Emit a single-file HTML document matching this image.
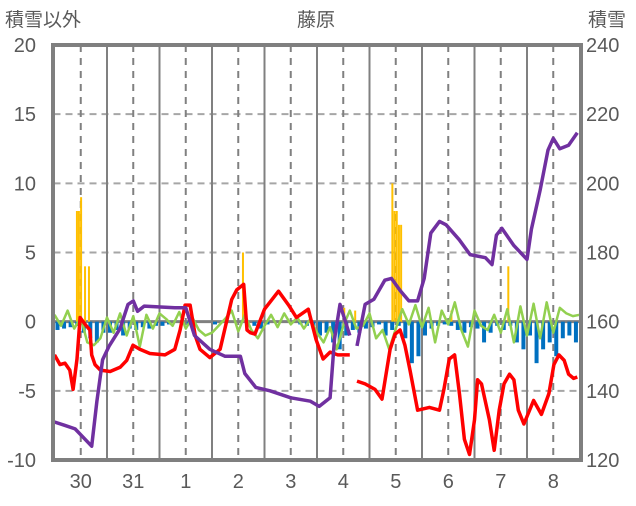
<!DOCTYPE html>
<html><head><meta charset="utf-8">
<style>
body{margin:0;background:#fff;}
svg text{font-family:"Liberation Sans","Noto Sans CJK JP",sans-serif;fill:#595959;}
</style></head>
<body>
<svg id="chart" width="636" height="501" viewBox="0 0 636 501" xmlns="http://www.w3.org/2000/svg">
<text x="5" y="26" font-size="19">積雪以外</text>
<text x="316" y="26" font-size="19" text-anchor="middle">藤原</text>
<text x="588" y="26" font-size="19">積雪</text>
<g id="grid"></g>
<g id="bars"></g>
<g id="lines"></g>
<g id="axes"></g>
</svg>
<script>
const dayLabels=["30","31","1","2","3","4","5","6","7","8"];
const leftTicks=[20,15,10,5,0,-5,-10];
const rightTicks=[240,220,200,180,160,140,120];
const purpleT=[0,4.8,9.4,14,17,19.4,22,25,30,33.6,36,38,41,55,60,64,71,78,85,87,92,98.5,108,117,121,126,128,130.5,135];
const purpleV=[131,130,129,126,124,137,149,153,158,165,166,163,164.5,164,164,156,152,150,150,145,141,140,138,137,135.5,138,155,165,156];
const purple2T=[138.3,142,146,151,154,158,162,166,169,172,176,179,185,190,197,200,202,204.5,210,216,218,222,225.6,228,231,235,239];
const purple2V=[153,165,166.5,172,172.5,169,166,166,172.5,185.6,189,188,183.7,179.4,178.5,176.5,185,187,182,178,186.7,198,209.6,213,210,211,214.6];
const redT=[0,2.5,4.8,7,8.5,10.3,11.7,14,16.2,17,18.5,21,25.4,30,33,35.9,39,43.6,50.5,55,57.4,59.7,62,64.3,66.5,71,75.7,81,83.3,86.5,88,89.5,91.6,96,102.4,107,110.6,116,119.6,122.8,126,129.5,132.8,135];
const redV=[-2.4,-3.1,-3,-3.5,-4.9,-2.7,0.3,-0.2,-0.6,-2.4,-3.1,-3.5,-3.6,-3.3,-2.8,-1.7,-2,-2.3,-2.4,-2,-0.6,1.2,1.2,-1,-2,-2.6,-2,1.6,2.3,2.7,-0.6,-0.8,-0.9,0.9,2.2,1.2,0.3,0.9,-1.3,-2.7,-2.2,-2.4,-2.4,-2.4];
const red2T=[138.3,142,146.5,149.7,153.4,155.7,158,160.2,162.5,166,171.4,176,178,180.5,182.9,185.2,187.4,189.7,192,193.4,195.2,198.8,201,203.3,205.5,208,210,212,214.6,219,222.6,226,228.3,230.6,233,235,237.3,239];
const red2V=[-4.3,-4.5,-4.9,-5.6,-2,-0.9,-0.6,-1.7,-3.5,-6.4,-6.2,-6.4,-4.9,-2.7,-2.4,-5.3,-8.5,-9.6,-7.1,-4.2,-4.5,-7.1,-9.3,-6.4,-4.5,-3.8,-4.2,-6.4,-7.4,-5.7,-6.7,-5.2,-3.1,-2.4,-2.8,-3.8,-4.1,-4];
const greenV=[0.5,-0.3,0.8,-0.5,0.3,-1.5,-1.7,-1.2,0.3,-0.8,0.6,-1.0,0.4,-1.8,0.5,-0.5,0.6,0.2,-0.3,0.7,-0.5,0.3,-0.6,-1.0,-0.8,-0.3,0.2,0.8,-0.7,0.5,-0.6,-1.2,-0.3,0.5,-0.4,0.6,-0.2,0.3,-0.5,0.2,-0.8,-1.5,-0.4,-2.0,-0.3,0.8,-0.5,-0.3,0.6,-1.2,-0.6,-2.0,-0.5,0.9,-0.2,1.2,-0.4,1.0,-1.5,0.8,-0.2,1.4,-0.6,-1.8,0.8,-0.3,-0.6,0.5,-0.8,0.9,-1.5,1.1,-1.0,1.3,-1.2,1.4,-0.8,1.0,0.6,0.4,0.5];
const blueV=[-0.6,-0.5,-0.4,-0.3,-0.8,-1.2,-1.5,-0.8,-0.8,-0.6,-1.0,-0.5,-0.6,-0.4,-0.5,-0.3,-0.3,-0.2,0,0,-0.2,0,0,0,-0.2,0,0,0,0,0,-0.3,-0.5,-0.2,0,0,0,0,-0.2,-0.3,-0.5,-1.0,-0.8,-1.5,-2.0,-1.0,-0.6,-0.8,-0.5,-0.4,-0.2,-1.0,-0.6,-0.3,-1.2,-3.0,-2.5,-1.0,-0.5,-0.3,-0.2,-0.3,-0.6,-0.8,-0.4,-0.5,-1.5,-0.8,-0.3,-0.6,-0.3,-1.5,-2.0,-1.0,-3.0,-2.0,-1.5,-2.5,-1.2,-1.0,-1.5];
const orangeT=[9.8,10.7,11.7,13.5,15.3,85.7,132,137,154,155,156,157,158,181,207];
const orangeV=[8,8,9,4,4,5,1,0.8,10,8,8,7,7,0.8,4];

const X0=54.5,X1=579.5,YT=45,YB=460;
const xS=t=>X0+t*(X1-X0)/240;
const yL=v=>YB-(v+10)*(YB-YT)/30;
const yR=v=>YB-(v-120)*(YB-YT)/120;
const NS="http://www.w3.org/2000/svg";
function mk(tag,attrs,parent){const e=document.createElementNS(NS,tag);for(const k in attrs)e.setAttribute(k,attrs[k]);parent.appendChild(e);return e;}
const grid=document.getElementById('grid'),bars=document.getElementById('bars'),lines=document.getElementById('lines'),axes=document.getElementById('axes');
leftTicks.forEach((v,i)=>{
  const y=yL(v);
  if(v!==20&&v!==-10){const l=mk('line',{x1:X0-1,x2:X1+1,y1:y,y2:y,stroke:v===0?'#808080':'#a6a6a6','stroke-width':v===0?3:2,'stroke-dasharray':v===0?'none':'7,5'},grid);
  
  }
  const t=mk('text',{x:36,y:y+7,'font-size':20,'text-anchor':'end'},axes);t.textContent=v;
  
  
  const r=mk('text',{x:586,y:y+7,'font-size':20},axes);r.textContent=rightTicks[i];
  
  
});
dayLabels.forEach((d,i)=>{
  const xm=xS(i*24+12);
  const l=mk('line',{x1:xm,x2:xm,y1:YT,y2:YB,stroke:'#808080','stroke-width':2,'stroke-dasharray':'7,6'},grid);
  
  
  if(i>0){const xb=xS(i*24);const s=mk('line',{x1:xb,x2:xb,y1:YT,y2:YB,stroke:'#808080','stroke-width':2},grid);
  
  }
  const t=mk('text',{x:xm,y:488,'font-size':20,'text-anchor':'middle'},axes);t.textContent=d;
  
  
});
blueV.forEach((v,i)=>{
  if(v===0)return;
  const x=xS(i*3),y0=yL(0),y1=yL(v);
  const b=mk('rect',{x:x+1,y:y0,width:4,height:y1-y0,fill:'#0070c0'},bars);
  
  
});
orangeT.forEach((t,i)=>{
  const y1=yL(orangeV[i]);
  const b=mk('rect',{x:xS(t),y:y1,width:2,height:yL(0)-y1,fill:'#ffc000'},bars);
  
  
});
function path(ts,vs,ys,color,w,name){
  const d=ts.map((t,i)=>(i?'L':'M')+xS(t).toFixed(1)+','+ys(vs[i]).toFixed(1)).join('');
  const p=mk('path',{d:d,fill:'none',stroke:color,'stroke-width':w,'stroke-linejoin':'round'},lines);
  
  
}
path(greenV.map((v,i)=>i*3),greenV,yL,'#92d050',2.5,'line-green');
path(redT,redV,yL,'#ff0000',3.5,'line-temperature');
path(red2T,red2V,yL,'#ff0000',3.5,'line-temperature-2');
path(purpleT,purpleV,yR,'#7030a0',3.5,'line-snow-depth');
path(purple2T,purple2V,yR,'#7030a0',3.5,'line-snow-depth-2');
const f=mk('rect',{x:X0-1.5,y:YT,width:X1-X0+3,height:YB-YT,fill:'none',stroke:'#7f7f7f','stroke-width':4},axes);


</script>
</body></html>
